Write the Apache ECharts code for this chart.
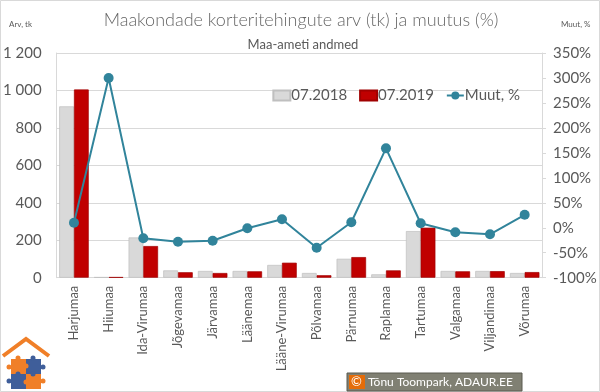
<!DOCTYPE html>
<html><head><meta charset="utf-8">
<script src="https://cdn.jsdelivr.net/npm/echarts@6/dist/echarts.min.js"></script>
<style>html,body{margin:0;padding:0;background:#fff}#c{width:600px;height:392px}</style>
</head><body><div id="c"></div>
<script>
const categories = ["Harjumaa","Hiiumaa","Ida-Virumaa","Jõgevamaa","Järvamaa","Läänemaa","Lääne-Virumaa","Põlvamaa","Pärnumaa","Raplamaa","Tartumaa","Valgamaa","Viljandimaa","Võrumaa"];
const count2018 = [915, 3, 215, 39, 36, 36, 68, 25, 101, 18, 249, 36, 36, 25];
const count2019 = [1005, 3, 169, 29, 25, 34, 80, 13, 110, 39, 267, 34, 35, 30];
const changePct = [10, 300, -21, -28, -26, -1, 17, -40, 11, 159, 9, -9, -13, 26];
const seriesNames = ["07.2018", "07.2019", "Muut, %"];

const FONT = "Lato";
const TXT = "#595959";
const ORANGE = '#F07F28', BLUE = '#3F5E9A';
const chart = echarts.init(document.getElementById('c'), null, {renderer: 'canvas'});
chart.setOption({
  animation: false,
  backgroundColor: '#fff',
  textStyle: {fontFamily: FONT},
  title: [
    {text: 'Maakondade korteritehingute arv (tk) ja muutus (%)', left: 296, top: 6, textAlign: 'center',
     textStyle: {fontFamily: FONT, fontSize: 18, fontWeight: 300, color: '#666'}},
    {text: 'Maa-ameti andmed', left: 298, top: 33, textAlign: 'center',
     textStyle: {fontFamily: FONT, fontSize: 13, fontWeight: 'normal', color: TXT}},
    {text: 'Arv, tk', left: 4, top: 15, textStyle: {fontFamily: FONT, fontSize: 8, fontWeight: 'normal', color: TXT}},
    {text: 'Muut, %', left: 556, top: 15, textStyle: {fontFamily: FONT, fontSize: 8, fontWeight: 'normal', color: TXT}}
  ],
  legend: {
    right: 75, top: 83, itemWidth: 17, itemHeight: 10, itemGap: 12,
    textStyle: {fontFamily: FONT, fontSize: 15, color: TXT, padding: [0,0,0,-4]},
    data: [{name: seriesNames[0], icon: 'rect'}, {name: seriesNames[1], icon: 'rect'}, {name: seriesNames[2]}]
  },
  grid: {left: 53, right: 58, top: 53, bottom: 114.3, containLabel: false},
  xAxis: {
    type: 'category', data: categories,
    axisLine: {show: true, lineStyle: {color: '#D9D9D9'}},
    axisTick: {show: false},
    axisLabel: {rotate: 90, fontSize: 13, color: TXT, margin: 8, fontFamily: FONT}
  },
  yAxis: [
    {type: 'value', min: 0, max: 1200, interval: 200,
     axisLine: {show: true, lineStyle: {color: '#D9D9D9'}},
     axisTick: {show: false},
     splitLine: {lineStyle: {color: '#D9D9D9'}},
     axisLabel: {fontSize: 15, color: TXT, margin: 15, fontFamily: FONT,
       formatter: v => String(v).replace(/\B(?=(\d{3})+(?!\d))/g, ' ')}},
    {type: 'value', min: -100, max: 350, interval: 50, position: 'right',
     axisLine: {show: true, lineStyle: {color: '#D9D9D9'}},
     axisTick: {show: true, length: 4, lineStyle: {color: '#D9D9D9'}},
     splitLine: {show: false},
     axisLabel: {fontSize: 15, color: TXT, margin: 11, fontFamily: FONT, formatter: '{value}%'}}
  ],
  series: [
    {name: seriesNames[0], type: 'bar', data: count2018, barGap: '0%', barCategoryGap: '15%',
     itemStyle: {color: '#D9D9D9', borderColor: '#BFBFBF', borderWidth: 0.7}},
    {name: seriesNames[1], type: 'bar', data: count2019,
     itemStyle: {color: '#C00000', borderColor: '#A00000', borderWidth: 0.7}},
    {name: seriesNames[2], type: 'line', yAxisIndex: 1, data: changePct,
     symbol: 'circle', symbolSize: 10,
     lineStyle: {color: '#31849B', width: 2}, itemStyle: {color: '#31849B'}}
  ],
  graphic: [
    {type: 'rect', shape: {x: 0.5, y: 0.5, width: 599, height: 391}, style: {fill: 'none', stroke: '#D9D9D9', lineWidth: 1}, z: 0},
    {type: 'polyline', shape: {points: [[3,356],[26,339],[49,356]]}, style: {stroke: ORANGE, lineWidth: 4, fill: 'none'}},
    {type: 'rect', shape: {x: 11, y: 359, width: 15, height: 15}, style: {fill: ORANGE}},
    {type: 'rect', shape: {x: 26, y: 359, width: 15, height: 15}, style: {fill: BLUE}},
    {type: 'rect', shape: {x: 11, y: 374, width: 15, height: 15}, style: {fill: BLUE}},
    {type: 'rect', shape: {x: 26, y: 374, width: 15, height: 15}, style: {fill: ORANGE}},
    {type: 'circle', shape: {cx: 18, cy: 358, r: 2.5}, style: {fill: ORANGE}},
    {type: 'circle', shape: {cx: 33, cy: 358, r: 2.5}, style: {fill: BLUE}},
    {type: 'circle', shape: {cx: 9, cy: 367, r: 2.5}, style: {fill: ORANGE}},
    {type: 'circle', shape: {cx: 43, cy: 367, r: 2.5}, style: {fill: BLUE}},
    {type: 'circle', shape: {cx: 26, cy: 366, r: 2.5}, style: {fill: ORANGE}},
    {type: 'circle', shape: {cx: 18, cy: 374, r: 2.5}, style: {fill: BLUE}},
    {type: 'circle', shape: {cx: 33, cy: 374, r: 2.5}, style: {fill: BLUE}},
    {type: 'circle', shape: {cx: 9, cy: 381, r: 2.5}, style: {fill: BLUE}},
    {type: 'circle', shape: {cx: 43, cy: 381, r: 2.5}, style: {fill: ORANGE}},
    {type: 'circle', shape: {cx: 26, cy: 382, r: 2.5}, style: {fill: ORANGE}},
    {type: 'rect', shape: {x: 347, y: 373, width: 175, height: 18}, style: {fill: '#808073', stroke: '#5a5a50', lineWidth: 1}},
    {type: 'rect', shape: {x: 349, y: 375, width: 16, height: 14}, style: {fill: '#E46C0A'}},
    {type: 'text', left: 351, top: 375, style: {text: '©', fill: '#fff', font: '13px Lato'}},
    {type: 'text', left: 368, top: 376, style: {text: 'Tõnu Toompark, ADAUR.EE', fill: '#fff', font: '12px Lato'}}
  ]
});
</script></body></html>
